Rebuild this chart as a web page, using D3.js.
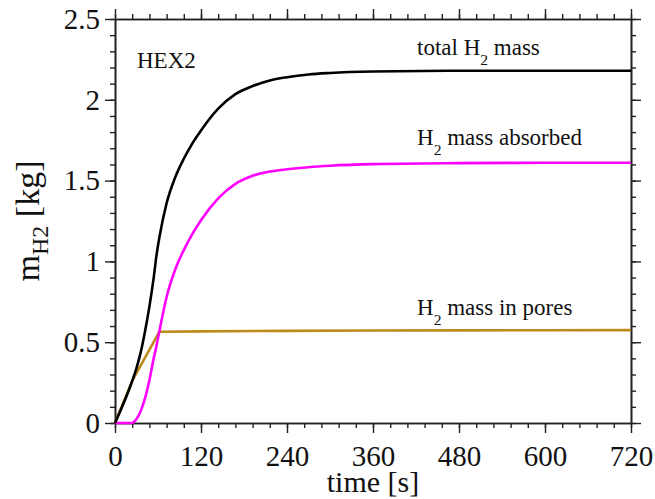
<!DOCTYPE html>
<html>
<head>
<meta charset="utf-8">
<script src="https://cdn.jsdelivr.net/npm/d3@7"></script>
<style>
  body { margin: 0; background: #fff; }
  svg { display: block; }
  text { font-family: "Liberation Serif", "Times New Roman", Times, serif; fill: #111; }
</style>
</head>
<body>
<div id="chart"></div>
<script>
// values, time in s, mass in kg
var totalTime = [0, 24, 30, 36, 42, 48, 54, 58, 62, 72, 84, 96, 108, 120, 144, 168, 192, 216, 240, 270, 300, 360, 480, 600, 720];
var totalMass = [0, 0.26, 0.34, 0.44, 0.57, 0.72, 0.9, 1.04, 1.15, 1.36, 1.52, 1.635, 1.73, 1.81, 1.945, 2.035, 2.085, 2.12, 2.14, 2.157, 2.166, 2.175, 2.18, 2.18, 2.18];

var absorbedTime = [0, 23, 30, 36, 42, 48, 54, 58, 62, 72, 84, 96, 108, 120, 144, 168, 192, 216, 240, 270, 300, 360, 480, 600, 720];
var absorbedMass = [0, 0, 0.025, 0.075, 0.155, 0.265, 0.4, 0.48, 0.57, 0.78, 0.95, 1.07, 1.17, 1.255, 1.39, 1.48, 1.53, 1.556, 1.57, 1.583, 1.592, 1.602, 1.608, 1.61, 1.61];

var poresTime = [0, 24, 62, 120, 240, 360, 480, 600, 720];
var poresMass = [0, 0.26, 0.565, 0.567, 0.57, 0.572, 0.573, 0.574, 0.575];

var xMajor = [0, 120, 240, 360, 480, 600, 720];
var xTickLabels = ["0", "120", "240", "360", "480", "600", "720"];
var yMajor = [0, 0.5, 1, 1.5, 2, 2.5];
var yTickLabels = ["0", "0.5", "1", "1.5", "2", "2.5"];

var margin = { top: 19, right: 24, bottom: 76, left: 115 };
var width = 655 - margin.left - margin.right;
var height = 499 - margin.top - margin.bottom;

var svg = d3.select("#chart").append("svg")
	.attr("width", 655)
	.attr("height", 499);

var g = svg.append("g")
	.attr("transform", "translate(" + margin.left + "," + margin.top + ")");

var x = d3.scaleLinear().domain([0, 720]).range([0, width]);
var y = d3.scaleLinear().domain([0, 2.5]).range([height, 0]);

var xMinor = d3.range(0, 721, 24);
var yMinor = d3.range(0, 26).map(function(i) { return i / 10; });

function styleAxis(sel) {
	sel.attr("font-family", null);
	sel.selectAll("path.domain").attr("stroke", "#222").attr("stroke-width", 1.6);
	sel.selectAll(".tick line").attr("stroke", "#222").attr("stroke-width", 1.4);
	sel.selectAll("text").attr("font-size", 29).attr("fill", "#111");
}

//minor ticks first, then major ticks with labels
g.append("g").attr("transform", "translate(0," + height + ")")
	.call(d3.axisBottom(x).tickValues(xMinor).tickSize(5).tickSizeOuter(0).tickFormat(""))
	.call(styleAxis);
g.append("g").attr("transform", "translate(0," + height + ")")
	.call(d3.axisBottom(x).tickValues(xMajor).tickSize(10).tickSizeOuter(0).tickPadding(12)
		.tickFormat(function(d, i) { return xTickLabels[i]; }))
	.call(styleAxis);

g.append("g")
	.call(d3.axisTop(x).tickValues(xMinor).tickSize(5).tickSizeOuter(0).tickFormat(""))
	.call(styleAxis);
g.append("g")
	.call(d3.axisTop(x).tickValues(xMajor).tickSize(10).tickSizeOuter(0).tickFormat(""))
	.call(styleAxis);

g.append("g")
	.call(d3.axisLeft(y).tickValues(yMinor).tickSize(5).tickSizeOuter(0).tickFormat(""))
	.call(styleAxis);
g.append("g")
	.call(d3.axisLeft(y).tickValues(yMajor).tickSize(10).tickSizeOuter(0).tickPadding(5)
		.tickFormat(function(d, i) { return yTickLabels[i]; }))
	.call(styleAxis);

g.append("g").attr("transform", "translate(" + width + ",0)")
	.call(d3.axisRight(y).tickValues(yMinor).tickSize(5).tickSizeOuter(0).tickFormat(""))
	.call(styleAxis);
g.append("g").attr("transform", "translate(" + width + ",0)")
	.call(d3.axisRight(y).tickValues(yMajor).tickSize(10).tickSizeOuter(0).tickFormat(""))
	.call(styleAxis);

// curves
function drawCurve(times, masses, color, curve) {
	var pts = times.map(function(t, i) { return [t, masses[i]]; });
	var line = d3.line()
		.x(function(d) { return x(d[0]); })
		.y(function(d) { return y(d[1]); })
		.curve(curve);
	g.append("path")
		.datum(pts)
		.attr("d", line)
		.attr("fill", "none")
		.attr("stroke", color)
		.attr("stroke-width", 2.6)
		.attr("stroke-linejoin", "round");
}

drawCurve(poresTime, poresMass, "#bd8a1c", d3.curveLinear);
drawCurve(absorbedTime, absorbedMass, "#ff00ff", d3.curveMonotoneX);
drawCurve(totalTime, totalMass, "#000000", d3.curveMonotoneX);

// labels
function subLabel(xp, yp, before, after, size) {
	var t = svg.append("text").attr("x", xp).attr("y", yp).attr("font-size", size);
	t.append("tspan").text(before);
	t.append("tspan").text("2").attr("font-size", size * 0.68).attr("dy", size * 0.42);
	t.append("tspan").text(after).attr("dy", -size * 0.42);
}

svg.append("text").attr("x", 137).attr("y", 68).attr("font-size", 23).text("HEX2");
subLabel(417, 55, "total H", " mass", 23);
subLabel(417, 145, "H", " mass absorbed", 23);
subLabel(417, 315, "H", " mass in pores", 23);

svg.append("text")
	.attr("x", margin.left + width / 2)
	.attr("y", 492)
	.attr("text-anchor", "middle")
	.attr("font-size", 30)
	.text("time [s]");

var yt = svg.append("text")
	.attr("transform", "translate(39," + (margin.top + height / 2) + ") rotate(-90)")
	.attr("text-anchor", "middle")
	.attr("font-size", 34);
yt.append("tspan").text("m");
yt.append("tspan").text("H2").attr("font-size", 24).attr("dy", 9);
yt.append("tspan").text(" [kg]").attr("dy", -9);
</script>
</body>
</html>
